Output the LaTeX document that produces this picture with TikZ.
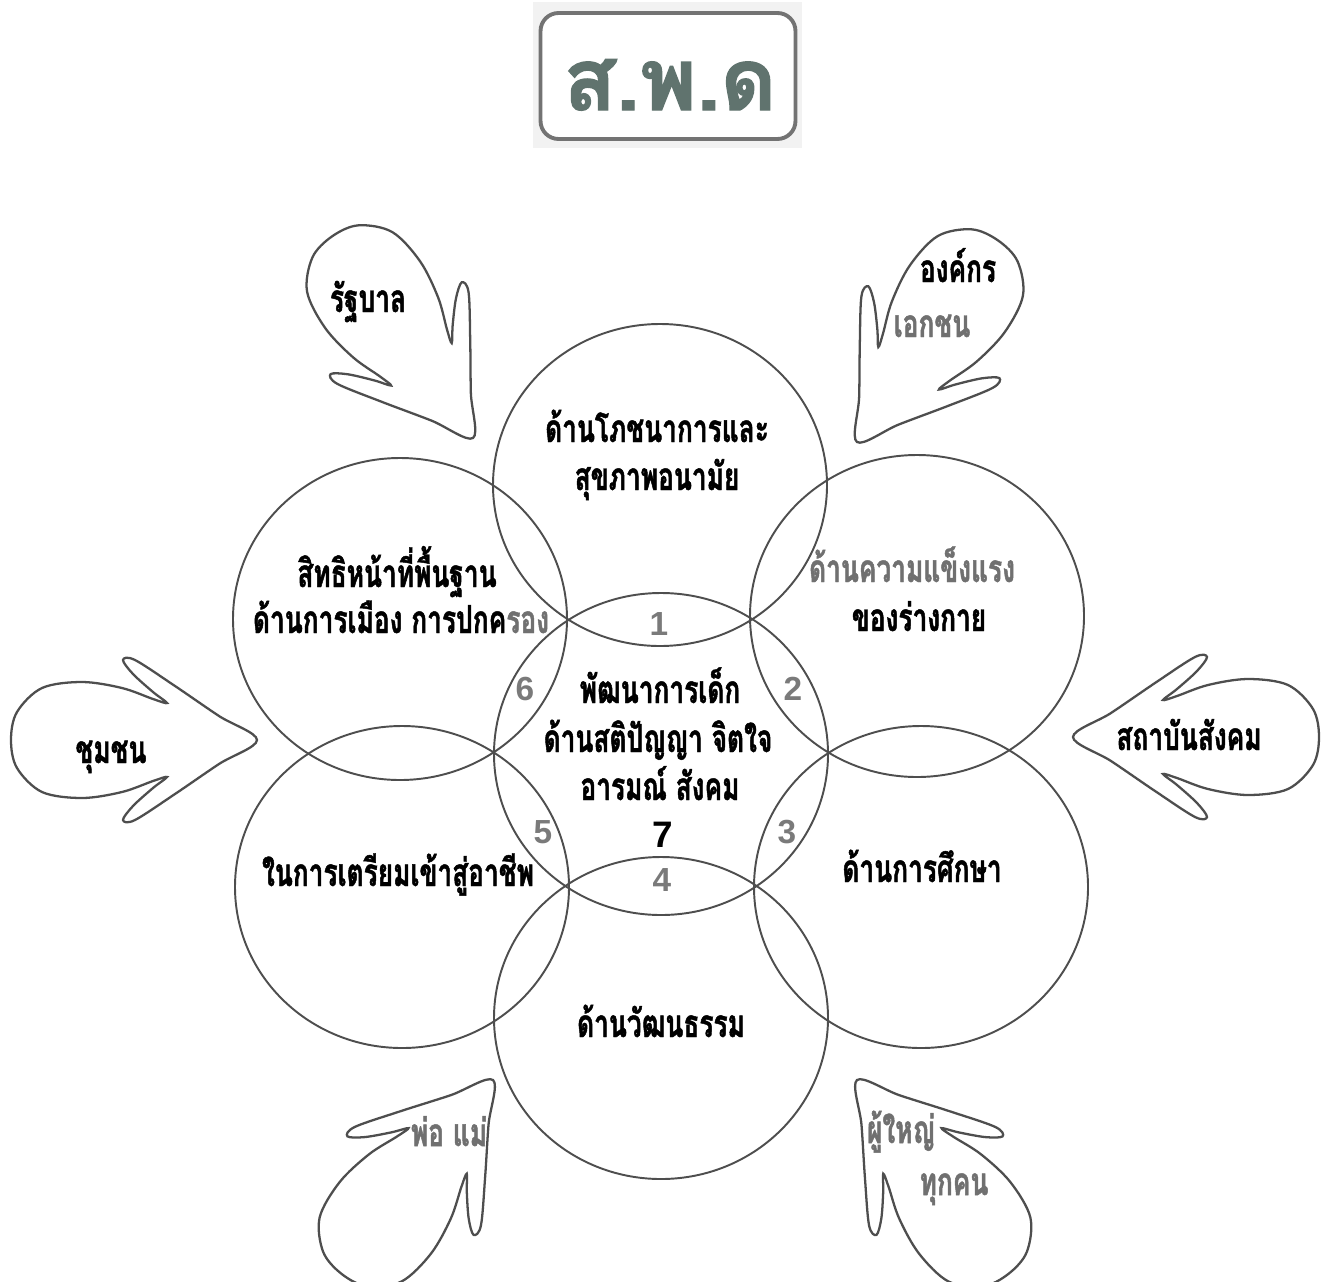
\documentclass[tikz,border=0pt]{standalone}
\usepackage{fontspec}
\setmainfont{Liberation Sans}
\newfontfamily\thaifont[Script=Thai,FakeStretch=0.68,FakeBold=1.2]{Loma}
\newfontfamily\thaititlefont[Script=Thai,FakeBold=1.5]{Loma}
\definecolor{ringgray}{HTML}{4E4E4E}
\definecolor{numgray}{HTML}{7A7A7A}
\definecolor{titlegreen}{HTML}{60736E}
\definecolor{softtext}{HTML}{707070}
\begin{document}
\begin{tikzpicture}[x=0.02cm,y=-0.02cm,
  ring/.style={draw=ringgray,line width=1.1pt},
  blobline/.style={draw=ringgray,line width=1.3pt},
  lbl/.style={font=\thaifont\bfseries\fontsize{22}{26}\selectfont,inner sep=0pt,anchor=base},
  soft/.style={lbl,text=softtext},
  num/.style={font=\bfseries\fontsize{19}{21}\selectfont,text=numgray,inner sep=0pt,anchor=base},
  arrowblob/.pic={
    \draw[blobline] plot[smooth cycle,tension=0.55] coordinates {
      (0,0) (-38,24) (-82,54) (-122,80) (-134,80) (-124,66) (-104,48) (-90,37)
      (-104,41) (-135,52) (-175,58) (-215,52) (-240,28) (-246,0) (-240,-28)
      (-215,-52) (-175,-58) (-135,-52) (-104,-41) (-90,-37) (-104,-48)
      (-124,-66) (-134,-80) (-122,-80) (-82,-54) (-38,-24)};
  }]
\useasboundingbox (0,0) rectangle (1321,1281);
% title
\fill[black!5] (533,2) rectangle (802,148);
\node[draw=black!55,line width=2.2pt,rounded corners=0.36cm,fill=white,
      minimum width=5.1cm,minimum height=2.52cm,inner sep=0pt] (titlebox) at (668,76) {};
\node[font=\thaititlefont\bfseries\fontsize{49}{50}\selectfont,text=titlegreen,
      inner sep=0pt,anchor=base] (title) at (670,110) {ส.พ.ด};
% circles
\draw[ring] (661,754) ellipse [x radius=167,y radius=161];
\draw[ring] (660,485) ellipse [x radius=167,y radius=161];
\draw[ring] (400,619) ellipse [x radius=167,y radius=161];
\draw[ring] (917,616) ellipse [x radius=167,y radius=161];
\draw[ring] (402,887) ellipse [x radius=167,y radius=161];
\draw[ring] (921,887) ellipse [x radius=167,y radius=161];
\draw[ring] (661,1018) ellipse [x radius=167,y radius=161];
% blobs
\pic[rotate=-55] at (473,438) {arrowblob};
\pic[rotate=-125] at (857,442) {arrowblob};
\pic at (257,740) {arrowblob};
\pic[rotate=180] at (1073,737) {arrowblob};
\pic[rotate=52] at (493,1080) {arrowblob};
\pic[rotate=128] at (857,1080) {arrowblob};
% circle labels
\node[lbl] (topa) at (657,442) {ด้านโภชนาการและ};
\node[lbl] (topb) at (657,490) {สุขภาพอนามัย};
\node[lbl] (ula) at (397,587) {สิทธิหน้าที่พื้นฐาน};
\node[lbl] (ulb) at (401,633) {ด้านการเมือง การปกค\textcolor{softtext}{รอง}};
\node[soft] (ura) at (912,582) {ด้านความแข็งแรง};
\node[lbl] (urb) at (919,631) {ของร่างกาย};
\node[lbl] (cea) at (660,703) {พัฒนาการเด็ก};
\node[lbl] (ceb) at (658,752) {ด้านสติปัญญา จิตใจ};
\node[lbl] (cec) at (660,800) {อารมณ์ สังคม};
\node[lbl] (lla) at (398,886) {ในการเตรียมเข้าสู่อาชีพ};
\node[lbl] (lra) at (922,882) {ด้านการศึกษา};
\node[lbl] (bota) at (661,1037) {ด้านวัฒนธรรม};
% numbers
\node[num] (n1) at (659,635) {1};
\node[num] (n2) at (793,700) {2};
\node[num] (n3) at (787,843) {3};
\node[num] (n4) at (662,891) {4};
\node[num] (n5) at (543,843) {5};
\node[num] (n6) at (525,700) {6};
\node[num,text=black,font=\bfseries\fontsize{21}{23}\selectfont] (n7) at (663,847) {7};
% blob labels
\node[lbl] (gov) at (368,312) {รัฐบาล};
\node[lbl] (orga) at (958,282) {องค์กร};
\node[soft] (orgb) at (932,337) {เอกชน};
\node[lbl] (comm) at (111,763) {ชุมชน};
\node[lbl] (inst) at (1189,750) {สถาบันสังคม};
\node[soft] (par) at (449,1146) {พ่อ แม่};
\node[soft] (elda) at (901,1143) {ผู้ใหญ่};
\node[soft] (eldb) at (954,1195) {ทุกคน};
\end{tikzpicture}
\end{document}
